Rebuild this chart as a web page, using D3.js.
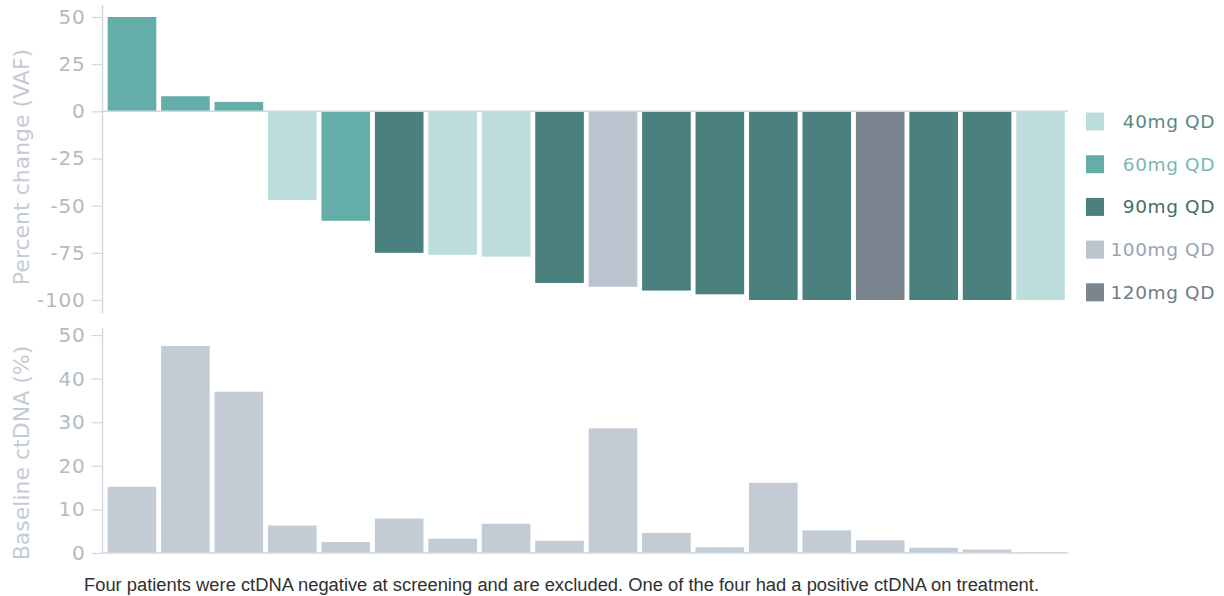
<!DOCTYPE html>
<html>
<head>
<meta charset="utf-8">
<script src="https://cdn.jsdelivr.net/npm/d3@7"></script>
<style>
  body { margin: 0; background: #fff; }
  .tick text { font-family: "DejaVu Sans", sans-serif; }
</style>
</head>
<body>
<script>
// Data
const patients = d3.range(1, 19).map(d => 'P' + d);
const vafChange = [50, 8, 5, -47, -58, -75, -76, -77, -91, -93, -95, -97, -100, -100, -100, -100, -100, -100];
const doseGroup = ['60mg QD', '60mg QD', '60mg QD', '40mg QD', '60mg QD', '90mg QD', '40mg QD', '40mg QD', '90mg QD',
  '100mg QD', '90mg QD', '90mg QD', '90mg QD', '90mg QD', '120mg QD', '90mg QD', '90mg QD', '40mg QD'];
const baselineCtDNA = [15.2, 47.5, 37, 6.3, 2.5, 7.9, 3.3, 6.7, 2.8, 28.6, 4.6, 1.3, 16.1, 5.2, 2.9, 1.2, 0.8, 0.2];
const doseLevels = ['40mg QD', '60mg QD', '90mg QD', '100mg QD', '120mg QD'];
const doseColors = ['#bddcdc', '#63aea9', '#4a817f', '#bac4ce', '#7a8590'];
const doseTextColors = ['#5b8886', '#7ab8b3', '#3f6f6d', '#98a3b1', '#717c88'];
const vafTicks = [50, 25, 0, -25, -50, -75, -100];
const ctTicks = [0, 10, 20, 30, 40, 50];
const caption = 'Four patients were ctDNA negative at screening and are excluded. One of the four had a positive ctDNA on treatment.';

const width = 1224;
const height = 596;
const axisX = 102.5;
const tickColor = '#b3bac3';
const lineColor = '#d3d8de';

const svg = d3.select('body')
  .append('svg')
    .attr('width', width)
    .attr('height', height);

const x = d3.scaleBand()
  .domain(patients)
  .range([105.5, 1067])
  .paddingInner(0.09)
  .paddingOuter(0.04);

const color = d3.scaleOrdinal().domain(doseLevels).range(doseColors);
const textColor = d3.scaleOrdinal().domain(doseLevels).range(doseTextColors);

// Top panel: percent change in VAF
const yTop = d3.scaleLinear().domain([-100, 50]).range([300, 17]);

svg.selectAll('rect.vaf')
    .data(vafChange)
  .enter().append('rect')
    .attr('class', 'vaf')
    .attr('x', (d, i) => x(patients[i]))
    .attr('width', x.bandwidth())
    .attr('y', d => yTop(Math.max(0, d)))
    .attr('height', d => Math.abs(yTop(d) - yTop(0)))
    .attr('fill', (d, i) => color(doseGroup[i]));

svg.append('line')
    .attr('x1', axisX)
    .attr('x2', 1068)
    .attr('y1', yTop(0))
    .attr('y2', yTop(0))
    .attr('stroke', lineColor)
    .attr('stroke-width', 1.5);

const axisTop = svg.append('g')
    .attr('transform', `translate(${axisX},0)`)
    .call(d3.axisLeft(yTop).tickValues(vafTicks).tickFormat(d => String(d))
      .tickSize(11).tickPadding(6).tickSizeOuter(0));

// Bottom panel: baseline ctDNA
const yBot = d3.scaleLinear().domain([0, 50]).range([553, 335]);

svg.selectAll('rect.ct')
    .data(baselineCtDNA)
  .enter().append('rect')
    .attr('class', 'ct')
    .attr('x', (d, i) => x(patients[i]))
    .attr('width', x.bandwidth())
    .attr('y', d => yBot(d))
    .attr('height', d => yBot(0) - yBot(d))
    .attr('fill', '#c3ccd5');

svg.append('line')
    .attr('x1', axisX)
    .attr('x2', 1068)
    .attr('y1', yBot(0))
    .attr('y2', yBot(0))
    .attr('stroke', lineColor)
    .attr('stroke-width', 1.5);

const axisBot = svg.append('g')
    .attr('transform', `translate(${axisX},0)`)
    .call(d3.axisLeft(yBot).tickValues(ctTicks).tickFormat(d => String(d))
      .tickSize(11).tickPadding(6).tickSizeOuter(0));

// axis styling
[axisTop, axisBot].forEach(g => {
  g.select('.domain').remove();
  g.selectAll('.tick line').attr('stroke', lineColor).attr('stroke-width', 1.2);
  g.selectAll('.tick text')
    .attr('fill', tickColor)
    .style('font-size', '20px')
    .style('letter-spacing', '0.8px');
});

// vertical axis lines
svg.append('line')
    .attr('x1', axisX).attr('x2', axisX)
    .attr('y1', 5).attr('y2', 313)
    .attr('stroke', lineColor).attr('stroke-width', 1.5);
svg.append('line')
    .attr('x1', axisX).attr('x2', axisX)
    .attr('y1', 328).attr('y2', yBot(0))
    .attr('stroke', lineColor).attr('stroke-width', 1.5);

// axis titles
svg.append('text')
    .attr('transform', 'translate(29,167) rotate(-90)')
    .attr('text-anchor', 'middle')
    .attr('fill', '#c5cbd3')
    .style('font-family', '"DejaVu Sans", sans-serif')
    .style('font-size', '22px')
    .text('Percent change (VAF)');

svg.append('text')
    .attr('transform', 'translate(29,453) rotate(-90)')
    .attr('text-anchor', 'middle')
    .attr('fill', '#c5cbd3')
    .style('font-family', '"DejaVu Sans", sans-serif')
    .style('font-size', '22px')
    .text('Baseline ctDNA (%)');

// Legend
const legend = svg.selectAll('g.legend')
    .data(doseLevels)
  .enter().append('g')
    .attr('class', 'legend')
    .attr('transform', (d, i) => `translate(0, ${121.5 + i * 42.7})`);

legend.append('rect')
    .attr('x', 1086)
    .attr('y', -9)
    .attr('width', 18)
    .attr('height', 18)
    .attr('fill', d => color(d));

legend.append('text')
    .attr('x', 1215)
    .attr('y', 6.5)
    .attr('text-anchor', 'end')
    .attr('fill', d => textColor(d))
    .style('font-family', '"DejaVu Sans", sans-serif')
    .style('font-size', '18.5px')
    .style('letter-spacing', '0.6px')
    .text(d => d);

// Caption
svg.append('text')
    .attr('x', 84)
    .attr('y', 591)
    .attr('textLength', 955)
    .attr('lengthAdjust', 'spacingAndGlyphs')
    .attr('fill', '#2f2f2f')
    .style('font-family', '"Liberation Sans Narrow", "Liberation Sans", Arial, sans-serif')
    .style('font-size', '18px')
    .text(caption);
</script>
</body>
</html>
